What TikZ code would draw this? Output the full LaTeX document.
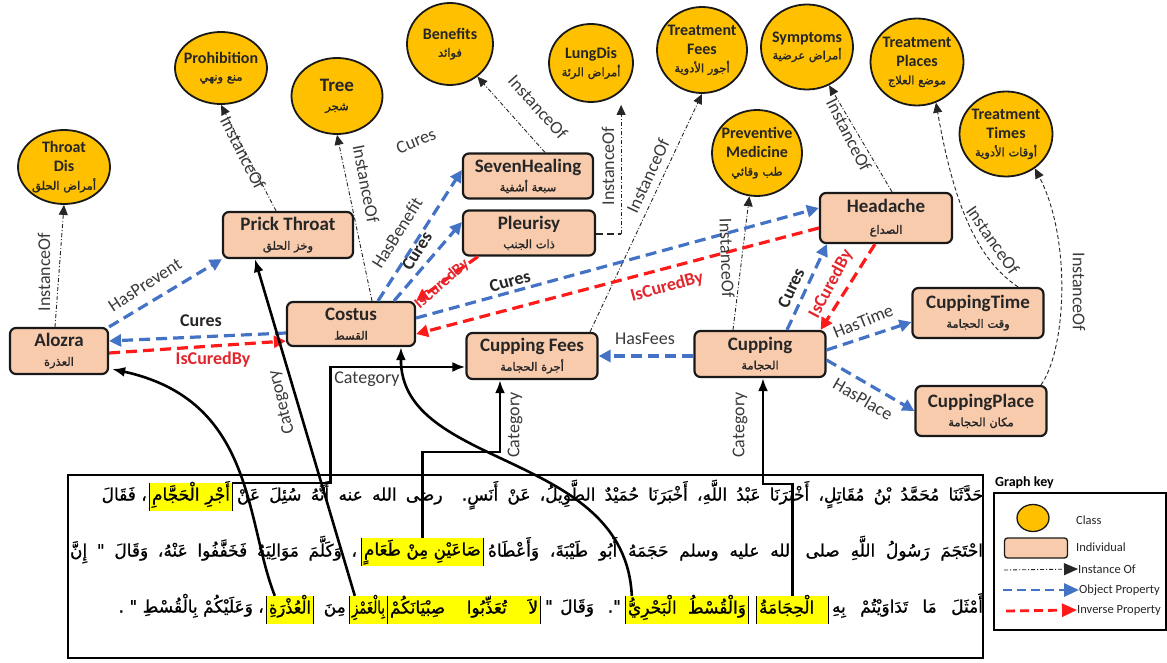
\documentclass[tikz,border=0pt]{standalone}
\usepackage{fontspec}
\usepackage{graphicx}
\setmainfont{Carlito}
\newfontfamily\arabicfont[Script=Arabic,FakeBold=1.0]{DejaVu Sans}
\newfontfamily\arabicbold[Script=Arabic,FakeBold=1.4]{DejaVu Sans}
\TeXXeTstate=1
\usetikzlibrary{shapes.geometric,arrows.meta,calc}

\definecolor{classfill}{HTML}{FFC000}
\definecolor{indfill}{HTML}{F8CBAD}
\definecolor{objblue}{HTML}{4472C4}
\definecolor{invred}{HTML}{FF1A1A}
\definecolor{labred}{HTML}{E3262D}
\definecolor{labgray}{HTML}{3A3A3A}
\definecolor{hiyellow}{HTML}{FFFF00}

% small Arabic caption inside classes and individuals
\newcommand\arsm[1]{{\fontsize{11.5}{13}\selectfont\mdseries\arabicbold #1}}

% Arabic text fitted to a given width
\newsavebox\arsbox
\newcommand\arfit[2]{%
  \sbox\arsbox{\arabicfont #2}%
  \ifdim\wd\arsbox>#1\relax
    \resizebox{#1}{\height}{\usebox\arsbox}%
  \else
    \hbox to #1{\arabicfont\spaceskip=.3em plus 1fil #2}%
  \fi}

% a run of the hadith text between two x positions
\newcommand\arseg[5]{%
  \pgfmathsetlengthmacro\segw{#2-#3}%
  \node[arline] (#1) at ({(#2+#3)/2},#4) {\arfit{\segw}{#5}};}

% a run set at its natural width, right end fixed
\newcommand\arat[4]{%
  \node[arline, anchor=east] (#1) at (#2,#3) {\arabicfont #4};}

% a highlighted phrase
\newcommand\arhl[5]{%
  \pgfmathsetlengthmacro\segw{#2-#3}%
  \pgfmathsetlengthmacro\segwi{#2-#3-4}%
  \node[arhi, minimum width=\segw] (#1) at ({(#2+#3)/2},#4) {\arfit{\segwi}{#5}};
  \draw[hlside] (#1.north west) -- (#1.south west) (#1.north east) -- (#1.south east);}

\begin{document}
\begin{tikzpicture}[x=1pt,y=-1pt,
  cls/.style={ellipse, draw=black!90, line width=1.8pt, fill=classfill, inner sep=0pt},
  clstxt/.style={align=center, inner sep=0pt, font=\fontsize{16}{20}\selectfont\bfseries, text=black!85},
  ind/.style={rectangle, rounded corners=6pt, draw=black!90, line width=2.2pt, fill=indfill,
    align=center, inner sep=0pt, font=\fontsize{19}{21}\selectfont\bfseries, text=black!85},
  arline/.style={inner sep=0pt, text height=13pt, text depth=6pt, font=\fontsize{17}{20}\selectfont},
  arhi/.style={fill=hiyellow, inner sep=0pt, minimum height=28pt, text height=13pt, text depth=6pt,
    font=\fontsize{17}{20}\selectfont},
  hlside/.style={draw=black, line width=0.8pt},
  inst/.style={draw=black!85, line width=0.9pt, dash pattern=on 4pt off 2pt on 1pt off 2pt,
    -{Triangle[length=10pt,width=9pt]}},
  instc/.style={inst, dash pattern=on 4pt off 2.5pt},
  instbar/.style={draw=black!85, line width=1.6pt, dash pattern=on 7pt off 4pt},
  obj/.style={draw=objblue, line width=3.2pt, dash pattern=on 11pt off 6pt,
    -{Triangle[length=12pt,width=12pt]}},
  inv/.style={obj, draw=invred},
  cat/.style={draw=black, line width=2.6pt, -{Latex[length=13pt,width=10pt]}},
  lbl/.style={font=\fontsize{18}{19}\selectfont, text=labgray, inner sep=1pt},
  lblb/.style={font=\fontsize{18}{19}\selectfont\bfseries, text=black!85, inner sep=1pt},
  lblr/.style={font=\fontsize{18}{19}\selectfont\bfseries, text=labred, inner sep=1pt},
  ilbl/.style={font=\fontsize{18}{19}\selectfont, text=labgray, inner sep=1pt},
  keytxt/.style={anchor=west, inner sep=0pt, font=\fontsize{12.5}{13}\selectfont, text=black!85}
]
\useasboundingbox (0,0) rectangle (1167,663);
\fill[white] (0,0) rectangle (1167,663);

% ---------- hadith text frame ----------
\node[draw=black, line width=2pt, minimum width=915pt, minimum height=183pt, inner sep=0pt] (hadith) at (525.5,566.5) {};

% line 1
\arseg{ta1}{983}{237}{497}{\beginR حَدَّثَنَا مُحَمَّدُ بْنُ مُقَاتِلٍ، أَخْبَرَنَا عَبْدُ اللَّهِ، أَخْبَرَنَا حُمَيْدٌ الطَّوِيلُ، عَنْ أَنَسٍ. رضى الله عنه أَنَّهُ سُئِلَ عَنْ\endR}
\arhl{hJ}{232}{150}{497}{\beginR أَجْرِ الْحَجَّامِ\endR}
\arat{ta2}{147}{497}{\beginR ، فَقَالَ\endR}
% line 2
\arseg{tb1}{983}{488}{553}{\beginR احْتَجَمَ رَسُولُ اللَّهِ صلى الله عليه وسلم حَجَمَهُ أَبُو طَيْبَةَ، وَأَعْطَاهُ\endR}
\arhl{hS}{483}{362}{552}{\beginR صَاعَيْنِ مِنْ طَعَامٍ\endR}
\arseg{tb2}{357}{70}{553}{\beginR ، وَكَلَّمَ مَوَالِيَهُ فَخَفَّفُوا عَنْهُ، وَقَالَ " إِنَّ\endR}
% line 3
\arseg{tc1}{983}{832}{609}{\beginR أَمْثَلَ مَا تَدَاوَيْتُمْ بِهِ\endR}
\arhl{hH}{828}{757}{610}{\beginR الْحِجَامَةُ\endR}
\arhl{hQ}{748}{626}{610}{\beginR وَالْقُسْطُ الْبَحْرِيُّ\endR}
\arseg{tc2}{621}{545}{609}{\beginR ". وَقَالَ "\endR}
\arhl{hL}{540}{388}{610}{\beginR لاَ تُعَذِّبُوا صِبْيَانَكُمْ\endR}
\arhl{hG}{387}{350}{610}{\beginR بِالْغَمْزِ\endR}
\arat{tc3}{346}{609}{\beginR مِنَ\endR}
\arhl{hA}{313}{267}{610}{\beginR الْعُذْرَةِ\endR}
\arat{tc4}{264}{609}{\beginR ، وَعَلَيْكُمْ بِالْقُسْطِ " .\endR}

% ---------- classes ----------
\node[cls, minimum width=92pt, minimum height=74pt] (throat) at (64,167) {};
\node[clstxt] (throatT) at (throat) {Throat\\[-1pt]Dis\\[-2pt]\arsm{\beginR أمراض الحلق\endR}};
\node[cls, minimum width=92pt, minimum height=72pt] (prohib) at (221,68) {};
\node[clstxt] (prohibT) at (prohib) {Prohibition\\[-3pt]\arsm{\beginR منع ونهي\endR}};
\node[cls, minimum width=91pt, minimum height=76pt] (tree) at (337,96) {};
\node[clstxt, font=\fontsize{19}{22}\selectfont\bfseries] (treeT) at (tree) {Tree\\[-3pt]\arsm{\beginR شجر\endR}};
\node[cls, minimum width=86pt, minimum height=82pt] (benef) at (450,44) {};
\node[clstxt] (benefT) at (benef) {Benefits\\[-3pt]\arsm{\beginR فوائد\endR}};
\node[cls, minimum width=84pt, minimum height=78pt] (lung) at (591,63) {};
\node[clstxt] (lungT) at (lung) {LungDis\\[-2pt]\arsm{\beginR أمراض الرئة\endR}};
\node[cls, minimum width=90pt, minimum height=86pt] (tfees) at (702,50) {};
\node[clstxt] (tfeesT) at (tfees) {Treatment\\[-1pt]Fees\\[-2pt]\arsm{\beginR أجور الأدوية\endR}};
\node[cls, minimum width=90pt, minimum height=86pt] (prevm) at (757,153) {};
\node[clstxt] (prevmT) at (prevm) {Preventive\\[-1pt]Medicine\\[-2pt]\arsm{\beginR طب وقائي\endR}};
\node[cls, minimum width=92pt, minimum height=85pt] (sympt) at (807,47) {};
\node[clstxt] (symptT) at (sympt) {Symptoms\\[-3pt]\arsm{\beginR أمراض عرضية\endR}};
\node[cls, minimum width=93pt, minimum height=87pt] (tplaces) at (917,62) {};
\node[clstxt] (tplacesT) at (tplaces) {Treatment\\[-1pt]Places\\[-2pt]\arsm{\beginR موضع العلاج\endR}};
\node[cls, minimum width=93pt, minimum height=85pt] (ttimes) at (1006,134) {};
\node[clstxt] (ttimesT) at (ttimes) {Treatment\\[-1pt]Times\\[-2pt]\arsm{\beginR أوقات الأدوية\endR}};

% ---------- individuals ----------
\node[ind, minimum width=98pt, minimum height=46pt] (alozra) at (59,351) {Alozra\\[-2pt]\arsm{\beginR العذرة\endR}};
\node[ind, minimum width=130pt, minimum height=46pt] (prick) at (288,235) {Prick Throat\\[-2pt]\arsm{\beginR وخز الحلق\endR}};
\node[ind, minimum width=128pt, minimum height=44pt] (costus) at (351,324) {Costus\\[-2pt]\arsm{\beginR القسط\endR}};
\node[ind, minimum width=130pt, minimum height=45pt] (seven) at (528,176) {SevenHealing\\[-2pt]\arsm{\beginR سبعة أشفية\endR}};
\node[ind, minimum width=132pt, minimum height=45pt] (pleur) at (529,233) {Pleurisy\\[-2pt]\arsm{\beginR ذات الجنب\endR}};
\node[ind, minimum width=131pt, minimum height=46pt] (cfees) at (532,356) {Cupping Fees\\[-2pt]\arsm{\beginR أجرة الحجامة\endR}};
\node[ind, minimum width=131pt, minimum height=46pt] (cupping) at (760,354) {Cupping\\[-2pt]\arsm{\beginR الحجامة\endR}};
\node[ind, minimum width=132pt, minimum height=50pt] (head) at (886,218) {Headache\\[0pt]\arsm{\beginR الصداع\endR}};
\node[ind, minimum width=131pt, minimum height=50pt] (ctime) at (978,313) {CuppingTime\\[-2pt]\arsm{\beginR وقت الحجامة\endR}};
\node[ind, minimum width=131pt, minimum height=50pt] (cplace) at (981,411) {CuppingPlace\\[-2pt]\arsm{\beginR مكان الحجامة\endR}};

% ---------- instance-of links ----------
\draw[inst] ($(alozra.north)+(-4,0)$) -- (throat.south);
\draw[inst] ($(prick.north)+(-12,0)$) -- (prohib.south);
\draw[inst] ($(costus.north)+(21,0)$) -- (tree.south);
\draw[inst] ($(seven.north)+(17,0)$) -- (benef.-50);
\draw[instbar] ($(pleur.east)+(0,1)$) -- ++(25,0) coordinate (plc);
\draw[inst] (plc) -- ($(plc |- lung.south)+(0,2)$);
\draw[inst] ($(cfees.north)+(58,0)$) -- (tfees.south);
\draw[inst] ($(cupping.north)+(-27,0)$) -- (prevm.-100);
\draw[inst] ($(head.north)+(6,0)$) -- (sympt.-60);
\draw[instc] ($(ctime.north)+(40,0)$) .. controls (975,258) and (953,200) .. (tplaces.-65);
\draw[instc] ($(cplace.north)+(60,0)$) .. controls (1066,350) and (1072,240) .. (ttimes.-50);

% ---------- object and inverse properties ----------
\draw[obj] (alozra.north east) -- (prick.south west);
\draw[obj] ($(costus.west)+(0,9)$) -- ($(alozra.east)+(0,-10)$);
\draw[inv] ($(alozra.east)+(0,2)$) -- ($(costus.west)+(0,17)$);
\draw[obj] ($(costus.north)+(27,0)$) -- ($(seven.west)+(0,-6)$);
\draw[obj] ($(costus.north)+(43,0)$) -- ($(pleur.west)+(0,-11)$);
\draw[inv] ($(pleur.south west)+(16,0)$) -- (costus.north east);
\draw[obj] ($(costus.east)+(0,-6)$) -- ($(head.west)+(0,-10)$);
\draw[inv] ($(head.west)+(0,10)$) -- ($(costus.east)+(0,10)$);
\draw[obj] ($(cupping.west)+(0,2)$) -- (cfees.east);
\draw[obj] ($(cupping.north)+(27,0)$) -- ($(head.south west)+(8,0)$);
\draw[inv] ($(head.south)+(-11,0)$) -- ($(cupping.north east)+(-6,0)$);
\draw[obj] ($(cupping.east)+(0,-4)$) -- ($(ctime.west)+(0,9)$);
\draw[obj] ($(cupping.east)+(0,6)$) -- (cplace.west);

% ---------- category links from the text ----------
\draw[cat] ($(hA.north west)+(8,0)$) .. controls (245,520) and (255,400) .. ($(alozra.south east)+(3,-6)$);
\draw[cat] ($(hG.north west)+(5,0)$) -- ($(prick.south west)+(33,0)$);
\draw[cat] ($(hQ.north west)+(6,0)$) .. controls (625,450) and (400,470) .. ($(costus.south)+(50,0)$);
\draw[cat] (hH.north) -- ++(0,-112) -| ($(cupping.south)+(3,0)$);
\draw[cat] (hJ.north east) -- ++(98,0) |- ($(cfees.west)+(0,11)$);
\draw[cat] (hS.north) -- ++(0,-86) -| ($(cfees.south)+(-32,0)$);

% ---------- link labels ----------
\node[ilbl, rotate=90] (iA) at (44,272) {InstanceOf};
\node[ilbl, rotate=-63] (iB) at (243,153) {InstanceOf};
\node[ilbl, rotate=-79] (iC) at (366,184) {InstanceOf};
\node[ilbl, rotate=-48] (iD) at (538,107) {InstanceOf};
\node[ilbl, rotate=90] (iE) at (608,166) {InstanceOf};
\node[ilbl, rotate=65] (iF) at (648,176) {InstanceOf};
\node[ilbl, rotate=-88] (iG) at (727,258) {InstanceOf};
\node[ilbl, rotate=-63] (iH) at (849,135) {InstanceOf};
\node[ilbl, rotate=-55] (iI) at (993,240) {InstanceOf};
\node[ilbl, rotate=-90] (iJ) at (1079,292) {InstanceOf};

\node[lbl, rotate=33] (oA) at (145,285) {HasPrevent};
\node[lbl, rotate=58] (oB) at (397,233) {HasBenefit};
\node[lbl] (oC) at (645,339) {HasFees};
\node[lbl, rotate=22] (oD) at (863,321) {HasTime};
\node[lbl, rotate=-30] (oE) at (863,399) {HasPlace};
\node[lbl, rotate=22] (oF) at (416,141) {Cures};

\node[lblb] (cA) at (201,321) {Cures};
\node[lblb, rotate=58] (cB) at (417,251) {Cures};
\node[lblb, rotate=15] (cC) at (510,281) {Cures};
\node[lblb, rotate=65] (cD) at (791,288) {Cures};

\node[lblr] (rA) at (213,360) {IsCuredBy};
\node[lblr, rotate=41, font=\fontsize{16}{17}\selectfont\bfseries] (rB) at (442,284) {IsCuredBy};
\node[lblr, rotate=15] (rC) at (667,287) {IsCuredBy};
\node[lblr, rotate=62] (rD) at (831,284) {IsCuredBy};

\node[lbl, rotate=104] (gA) at (282,402) {Category};
\node[lbl] (gB) at (367,379) {Category};
\node[lbl, rotate=90] (gC) at (515,425) {Category};
\node[lbl, rotate=90] (gD) at (740,425) {Category};

% ---------- graph key ----------
\node[font=\fontsize{14}{15}\selectfont\bfseries, anchor=west, inner sep=0pt] (keyttl) at (995,483) {Graph key};
\node[draw=black, line width=1.3pt, minimum width=172pt, minimum height=137pt, inner sep=0pt] (keybox) at (1080,561.5) {};
\node[cls, minimum width=32pt, minimum height=27pt, line width=1.3pt] (keycls) at (1033,518) {};
\node[keytxt] (keyclsT) at (1076,520) {Class};
\node[ind, minimum width=63pt, minimum height=20pt, rounded corners=3pt, line width=1.3pt] (keyind) at (1036,548) {};
\node[keytxt] (keyindT) at (1076,547) {Individual};
\node[keytxt] (keyinstT) at (1078,569) {Instance Of};
\node[keytxt] (keyobjT) at (1079,590) {Object Property};
\node[keytxt] (keyinvT) at (1077,610) {Inverse Property};
\coordinate (keyinstS) at (1004,570);
\coordinate (keyobjS) at (1003,590);
\coordinate (keyinvS) at (1006,611);
\draw[inst, -{Triangle[length=14pt,width=12pt]}] (keyinstS) -- (keyinstT.west);
\draw[obj, line width=2.8pt, dash pattern=on 9pt off 5pt, -{Triangle[length=15pt,width=13pt]}] (keyobjS) -- (keyobjT.west);
\draw[inv, line width=2.8pt, dash pattern=on 9pt off 5pt, -{Triangle[length=15pt,width=13pt]}] (keyinvS) -- (keyinvT.west);
\end{tikzpicture}
\end{document}
